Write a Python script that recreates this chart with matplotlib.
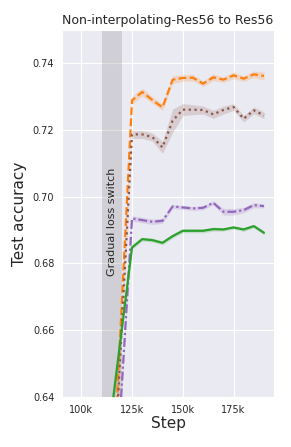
import numpy as np
import matplotlib
matplotlib.use("Agg")
import matplotlib.pyplot as plt
from matplotlib.ticker import FuncFormatter
import seaborn as sns

sns.set_style("darkgrid")

# steps (x) and mean test accuracy for each run
steps = [115000, 125000, 130000, 135000, 140000, 145000, 150000, 155000,
         160000, 165000, 170000, 175000, 180000, 185000, 190000]

acc_dashed = [0.608, 0.7289, 0.7314, 0.7290, 0.7268, 0.7351, 0.7356, 0.7357,
              0.7339, 0.7358, 0.7351, 0.7364, 0.7354, 0.7367, 0.7362]
acc_dotted = [0.604, 0.7187, 0.7187, 0.7179, 0.7148, 0.7228, 0.7261, 0.7261,
              0.7260, 0.7247, 0.7260, 0.7269, 0.7234, 0.7259, 0.7244]
acc_dashdot = [0.594, 0.6935, 0.6930, 0.6925, 0.6928, 0.6971, 0.6968, 0.6965,
               0.6967, 0.6982, 0.6955, 0.6955, 0.6960, 0.6975, 0.6972]
acc_solid = [0.636, 0.6848, 0.6873, 0.6870, 0.6862, 0.6882, 0.6898, 0.6898,
             0.6898, 0.6903, 0.6902, 0.6908, 0.6902, 0.6912, 0.6892]

# half-widths of the shaded bands
err_dashed = [0.003, 0.0012, 0.0012, 0.0010, 0.0010, 0.0012, 0.0010, 0.0010,
              0.0008, 0.0010, 0.0008, 0.0010, 0.0008, 0.0010, 0.0012]
err_dotted = [0.003, 0.0012, 0.0012, 0.0012, 0.0018, 0.0035, 0.0018, 0.0015,
              0.0012, 0.0012, 0.0012, 0.0010, 0.0010, 0.0010, 0.0010]
err_dashdot = [0.003, 0.0008, 0.0008, 0.0008, 0.0008, 0.0006, 0.0006, 0.0006,
               0.0006, 0.0006, 0.0010, 0.0010, 0.0008, 0.0008, 0.0006]
err_solid = [0.003, 0.0006, 0.0006, 0.0006, 0.0006, 0.0006, 0.0006, 0.0006,
             0.0006, 0.0006, 0.0005, 0.0005, 0.0006, 0.0005, 0.0006]

x_ticks = [100000, 125000, 150000, 175000]
y_ticks = [0.64, 0.66, 0.68, 0.70, 0.72, 0.74]

fig = plt.figure(figsize=(2.91, 4.47), dpi=100)
ax = fig.add_axes([0.213, 0.112, 0.729, 0.821])

ax.axvspan(110000, 120000, color="gray", alpha=0.25, lw=0, zorder=1)
ax.text(115000, 0.6925, "Gradual loss switch", rotation=90, fontsize=8,
        ha="center", va="center", zorder=2)

series = [
    (acc_dashed, err_dashed, "#ff7f0e", (0, (3.5, 1.5))),
    (acc_dotted, err_dotted, "#8c564b", (0, (1, 1.6))),
    (acc_dashdot, err_dashdot, "#9467bd", (0, (4, 1.3, 1, 1.3))),
    (acc_solid, err_solid, "#2ca02c", "-"),
]
x = np.array(steps)
for acc, err, col, ls in series:
    acc = np.array(acc)
    err = np.array(err)
    ax.fill_between(x, acc - err, acc + err, color=col, alpha=0.2, lw=0, zorder=3)
    ax.plot(x, acc, color=col, ls=ls, lw=1.6, zorder=4)

ax.set_xlim(90500, 195000)
ax.set_ylim(0.64, 0.75)
ax.set_xticks(x_ticks)
ax.set_yticks(y_ticks)
ax.xaxis.set_major_formatter(FuncFormatter(lambda v, p: "%dk" % int(v / 1000)))
ax.yaxis.set_major_formatter(FuncFormatter(lambda v, p: "%.2f" % v))
ax.tick_params(labelsize=7, pad=2)
ax.set_title("Non-interpolating-Res56 to Res56", fontsize=9, pad=4)
ax.set_xlabel("Step", fontsize=11, labelpad=1)
ax.set_ylabel("Test accuracy", fontsize=11, labelpad=4)

fig.savefig("out.png", dpi=100)
